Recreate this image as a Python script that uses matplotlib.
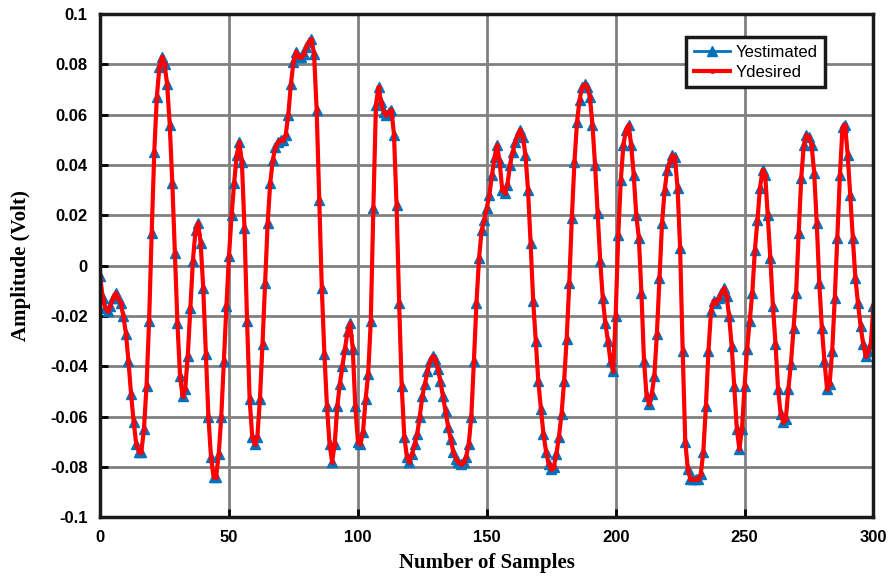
import numpy as np
import matplotlib
matplotlib.use("Agg")
import matplotlib.pyplot as plt

# sample values (both series overlap)
y_desired = [
    -0.004, -0.013, -0.017, -0.018, -0.016, -0.013, -0.011, -0.013, -0.015, -0.020,
    -0.027, -0.038, -0.051, -0.062, -0.071, -0.074, -0.074, -0.065, -0.048, -0.022,
    0.013, 0.045, 0.067, 0.079, 0.083, 0.080, 0.072, 0.056, 0.033, 0.005,
    -0.023, -0.044, -0.052, -0.049, -0.036, -0.017, 0.002, 0.014, 0.017, 0.009,
    -0.009, -0.035, -0.060, -0.076, -0.084, -0.084, -0.075, -0.060, -0.038, -0.016,
    0.004, 0.020, 0.033, 0.044, 0.049, 0.041, 0.015, -0.022, -0.053, -0.068,
    -0.071, -0.068, -0.053, -0.031, -0.007, 0.017, 0.033, 0.042, 0.047, 0.049,
    0.050, 0.050, 0.052, 0.060, 0.072, 0.081, 0.085, 0.083, 0.083, 0.084,
    0.087, 0.089, 0.090, 0.084, 0.062, 0.026, -0.009, -0.035, -0.056, -0.071,
    -0.078, -0.071, -0.056, -0.047, -0.040, -0.033, -0.026, -0.023, -0.033, -0.056,
    -0.070, -0.071, -0.066, -0.053, -0.043, -0.022, 0.023, 0.064, 0.071, 0.065,
    0.061, 0.060, 0.061, 0.062, 0.052, 0.024, -0.015, -0.048, -0.068, -0.076,
    -0.078, -0.075, -0.071, -0.067, -0.060, -0.052, -0.047, -0.042, -0.038, -0.036,
    -0.037, -0.041, -0.046, -0.052, -0.058, -0.064, -0.069, -0.074, -0.077, -0.078,
    -0.079, -0.078, -0.076, -0.071, -0.060, -0.038, -0.015, 0.003, 0.014, 0.018,
    0.023, 0.028, 0.036, 0.043, 0.048, 0.041, 0.030, 0.029, 0.032, 0.040,
    0.045, 0.049, 0.052, 0.054, 0.051, 0.044, 0.030, 0.009, -0.014, -0.030,
    -0.046, -0.057, -0.067, -0.074, -0.079, -0.081, -0.080, -0.075, -0.068, -0.059,
    -0.046, -0.029, -0.007, 0.019, 0.041, 0.057, 0.066, 0.071, 0.072, 0.071,
    0.067, 0.056, 0.040, 0.021, 0.002, -0.013, -0.023, -0.030, -0.038, -0.042,
    -0.020, 0.012, 0.034, 0.048, 0.054, 0.056, 0.048, 0.036, 0.020, 0.011,
    -0.011, -0.038, -0.052, -0.055, -0.051, -0.044, -0.027, -0.005, 0.017, 0.030,
    0.038, 0.041, 0.044, 0.043, 0.031, 0.007, -0.034, -0.070, -0.081, -0.085,
    -0.085, -0.085, -0.085, -0.083, -0.074, -0.056, -0.034, -0.018, -0.014, -0.015,
    -0.013, -0.011, -0.009, -0.012, -0.020, -0.032, -0.048, -0.065, -0.073, -0.065,
    -0.048, -0.033, -0.022, -0.011, 0.006, 0.018, 0.031, 0.038, 0.036, 0.020,
    0.003, -0.016, -0.031, -0.049, -0.059, -0.062, -0.061, -0.049, -0.039, -0.025,
    -0.011, 0.013, 0.035, 0.048, 0.052, 0.051, 0.048, 0.037, 0.017, -0.007,
    -0.025, -0.038, -0.049, -0.047, -0.034, -0.013, 0.011, 0.036, 0.055, 0.056,
    0.044, 0.028, 0.011, -0.005, -0.015, -0.024, -0.031, -0.036, -0.034, -0.031,
    -0.016,
]
# estimated output tracks the desired one almost exactly
y_estimated = list(y_desired)
samples = np.arange(len(y_desired))

xticks = [0, 50, 100, 150, 200, 250, 300]
yticks = [-0.1, -0.08, -0.06, -0.04, -0.02, 0, 0.02, 0.04, 0.06, 0.08, 0.1]
ytick_labels = ["-0.1", "-0.08", "-0.06", "-0.04", "-0.02", "0",
                "0.02", "0.04", "0.06", "0.08", "0.1"]

fig = plt.figure(figsize=(8.94, 5.85), dpi=100)
ax = fig.add_axes([0.112, 0.116, 0.865, 0.86])

ax.plot(samples, y_estimated, color="#0072BD", lw=2, marker="^", ms=7,
        label="Yestimated")
ax.plot(samples, y_desired, color="#FF0000", lw=3, marker=".", ms=5,
        label="Ydesired")

ax.set_xlim(0, 300)
ax.set_ylim(-0.1, 0.1)
ax.set_xticks(xticks)
ax.set_yticks(yticks)
ax.set_yticklabels(ytick_labels)
ax.grid(True, color="#808080", lw=2)
ax.set_axisbelow(True)
ax.tick_params(direction="in", length=6, width=2, labelsize=12, pad=9)
for lbl in ax.get_xticklabels() + ax.get_yticklabels():
    lbl.set_fontweight("bold")
    lbl.set_family("Liberation Sans")
for s in ax.spines.values():
    s.set_linewidth(2.5)
    s.set_color("#1a1a1a")

ax.set_xlabel("Number of Samples", fontsize=15, fontweight="bold",
              family="Liberation Serif", labelpad=6)
ax.set_ylabel("Amplitude (Volt)", fontsize=15, fontweight="bold",
              family="Liberation Serif", labelpad=14)

leg = ax.legend(loc="upper right", bbox_to_anchor=(0.948, 0.97),
                fancybox=False, framealpha=1, edgecolor="#1a1a1a",
                prop={"family": "Liberation Sans", "size": 12},
                handlelength=2.2, handletextpad=0.3, borderpad=0.45,
                labelspacing=0.3)
leg.get_frame().set_linewidth(2.5)

fig.savefig("out.png", dpi=100)
